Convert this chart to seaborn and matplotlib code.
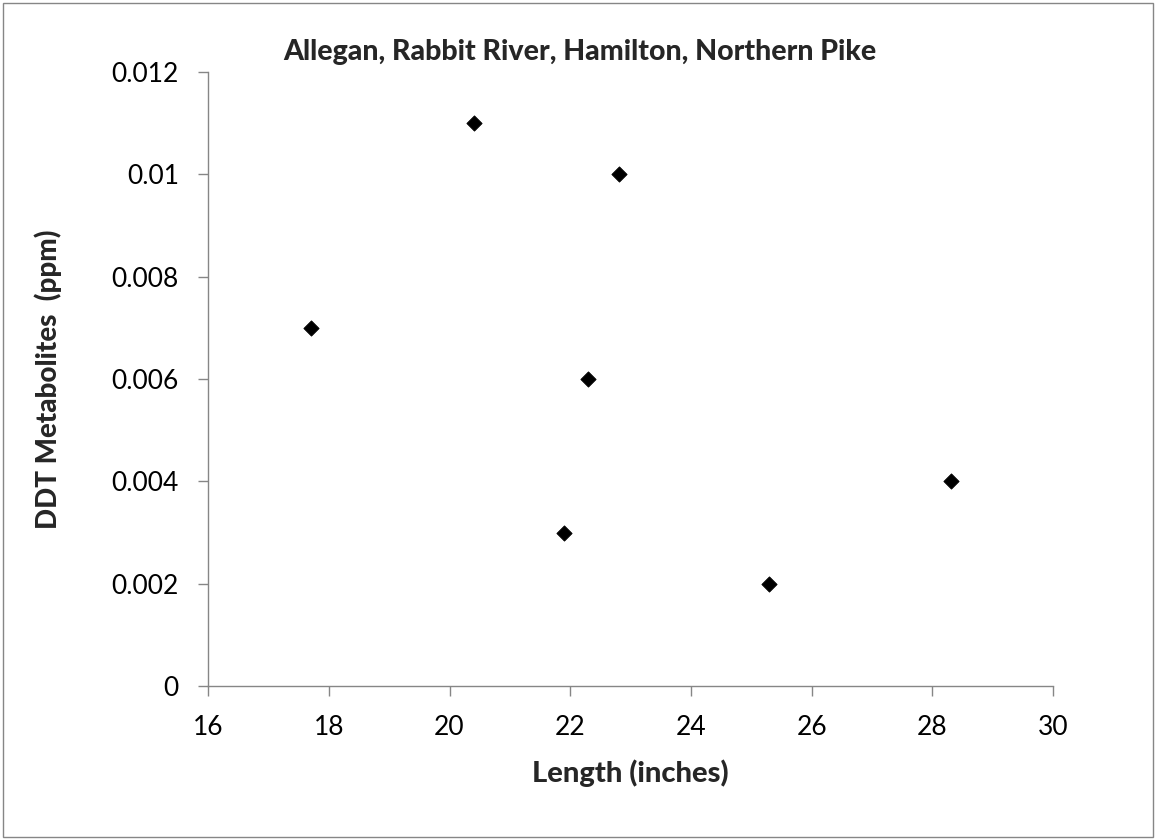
import matplotlib
matplotlib.use("Agg")
import matplotlib.pyplot as plt
import seaborn as sns
import pandas as pd

# values
length_in = [17.7, 20.4, 22.8, 22.3, 21.9, 25.3, 28.3]
ddt_ppm = [0.007, 0.011, 0.010, 0.006, 0.003, 0.002, 0.004]
x_ticks = [16, 18, 20, 22, 24, 26, 28, 30]
y_ticks = [0, 0.002, 0.004, 0.006, 0.008, 0.01, 0.012]
y_tick_labels = ["0", "0.002", "0.004", "0.006", "0.008", "0.01", "0.012"]

df = pd.DataFrame({"length": length_in, "ddt": ddt_ppm})

sns.set_style("white")
plt.rcParams['font.family'] = ['Lato', 'DejaVu Sans']

fig = plt.figure(figsize=(11.56, 8.4), dpi=100)
ax = fig.add_axes([0.18, 0.1833, 0.731, 0.731])

sns.scatterplot(data=df, x="length", y="ddt", marker="D", s=60,
                color="black", edgecolor="black", ax=ax, zorder=3)

ax.set_xlim(16, 30)
ax.set_ylim(0, 0.012)
ax.set_xticks(x_ticks)
ax.set_yticks(y_ticks)
ax.set_yticklabels(y_tick_labels)
ax.tick_params(axis="both", direction="out", length=7, width=1, colors="#868686",
               labelcolor="black", labelsize=19, left=True, bottom=True)
ax.tick_params(axis="x", pad=14)
ax.tick_params(axis="y", pad=14)
for side in ["top", "right"]:
    ax.spines[side].set_visible(False)
for side in ["left", "bottom"]:
    ax.spines[side].set_color("#868686")
    ax.spines[side].set_linewidth(1)

ax.set_xlabel("Length (inches)", fontsize=21, fontweight="black", labelpad=14)
ax.set_ylabel("DDT Metabolites  (ppm)", fontsize=20, fontweight="black", labelpad=36)
fig.text(0.502, 0.938, "Allegan, Rabbit River, Hamilton, Northern Pike",
         ha="center", va="center", fontsize=20.5, fontweight="black")

# outer chart border
fig.patches.append(plt.Rectangle((0.003, 0.003), 0.994, 0.994, transform=fig.transFigure,
                                 fill=False, edgecolor="#868686", linewidth=1))

fig.savefig("out.png", dpi=100)
